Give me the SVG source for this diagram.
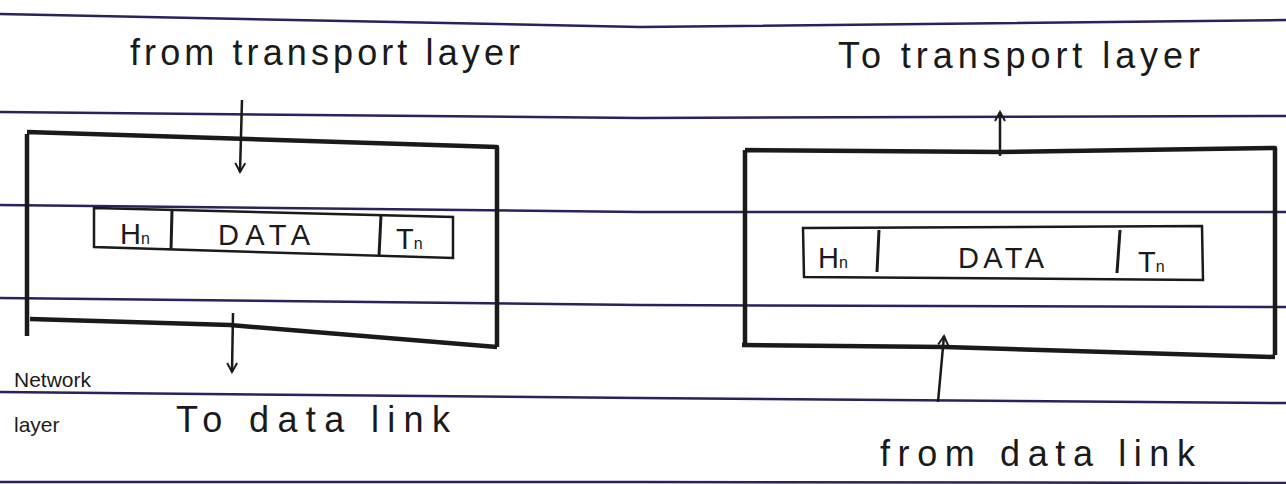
<svg xmlns="http://www.w3.org/2000/svg" width="1286" height="484" viewBox="0 0 1286 484">
  <style>
    .rule { fill: none; stroke: #2e1f5e; stroke-width: 2.5; }
    .box { fill: none; stroke: #1a1a1a; stroke-width: 4.5; stroke-linejoin: round; }
    .pkt { fill: none; stroke: #1a1a1a; stroke-width: 2.5; }
    .div { stroke: #1a1a1a; stroke-width: 3; }
    .conn { fill: none; stroke: #1a1a1a; stroke-width: 2.5; }
    .lbl { font-family: "Liberation Sans", Arial, sans-serif; fill: #1a1a1a; }
    .big { font-size: 36px; }
    .small { font-size: 21px; }
    .cell { font-size: 29px; }
  </style>
  <defs>
    <marker id="head" viewBox="0 0 12 12" refX="10" refY="6" markerWidth="12" markerHeight="12" markerUnits="userSpaceOnUse" orient="auto">
      <path d="M1,1 L10,6 L1,11" fill="none" stroke="#1a1a1a" stroke-width="2"/>
    </marker>
  </defs>
  <rect width="1286" height="484" fill="#ffffff"/>

  <g id="ruled-lines">
    <polyline class="rule" points="0,14 640,27 1286,20"/>
    <polyline class="rule" points="0,112 640,118 1286,116"/>
    <polyline class="rule" points="0,205 640,212 1286,212"/>
    <polyline class="rule" points="0,298 640,305 1286,307"/>
    <polyline class="rule" points="0,392 640,398 1286,403"/>
    <polyline class="rule" points="0,482 640,482 1286,483"/>
  </g>

  <g id="sender-box">
    <path class="box" d="M27,134 L27,336 M27,132 L497,147 L497,347 M30,319 L230,325 L497,347"/>
  </g>
  <g id="sender-packet">
    <path class="pkt" d="M94,208 L453,217 L453,258 L94,247 Z"/>
    <line class="div" x1="172" y1="210" x2="171" y2="250"/>
    <line class="div" x1="381" y1="215" x2="379" y2="256"/>
    <text class="lbl cell" x="120" y="244">H<tspan font-size="16">n</tspan></text>
    <text class="lbl cell" x="218" y="245" textLength="92" lengthAdjust="spacing">DATA</text>
    <text class="lbl cell" x="396" y="249">T<tspan font-size="16">n</tspan></text>
  </g>

  <g id="receiver-box">
    <path class="box" d="M745,150 L745,345 M745,150 L1000,152 L1275,148 L1275,355 M742,345 L945,347 L1275,357"/>
  </g>
  <g id="receiver-packet">
    <path class="pkt" d="M803,228 L1202,226 L1203,280 L804,277 Z"/>
    <line class="div" x1="879" y1="230" x2="877" y2="272"/>
    <line class="div" x1="1120" y1="230" x2="1117" y2="273"/>
    <text class="lbl cell" x="818" y="268">H<tspan font-size="16">n</tspan></text>
    <text class="lbl cell" x="958" y="268" textLength="86" lengthAdjust="spacing">DATA</text>
    <text class="lbl cell" x="1138" y="272">T<tspan font-size="16">n</tspan></text>
  </g>

  <g id="connectors">
    <line class="conn" x1="242" y1="100" x2="240" y2="172" marker-end="url(#head)"/>
    <line class="conn" x1="233" y1="313" x2="232" y2="372" marker-end="url(#head)"/>
    <line class="conn" x1="1000" y1="156" x2="1000" y2="112" marker-end="url(#head)"/>
    <line class="conn" x1="938" y1="402" x2="944" y2="336" marker-end="url(#head)"/>
  </g>

  <g id="labels">
    <text class="lbl big" x="130" y="65" textLength="390" lengthAdjust="spacing">from transport layer</text>
    <text class="lbl big" x="838" y="68" textLength="362" lengthAdjust="spacing">To transport layer</text>
    <text class="lbl small" x="14" y="387">Network</text>
    <text class="lbl small" x="14" y="432">layer</text>
    <text class="lbl big" x="176" y="432" textLength="274" lengthAdjust="spacing">To data link</text>
    <text class="lbl big" x="880" y="466" textLength="315" lengthAdjust="spacing">from data link</text>
  </g>
</svg>
